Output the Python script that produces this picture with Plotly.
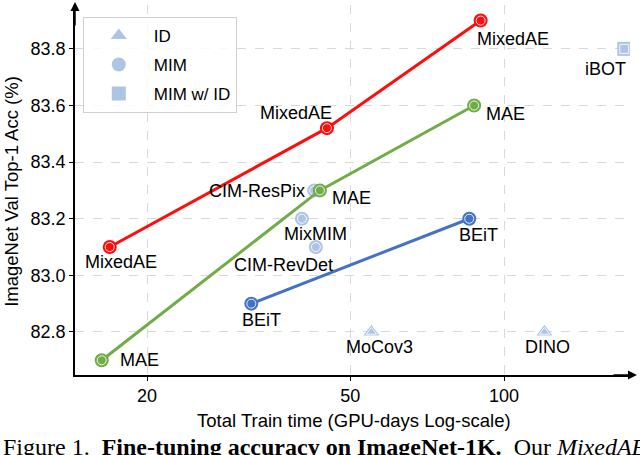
import numpy as np
import plotly.graph_objects as go

# ---------------- data ----------------
mixedae_x = [16.9, 45.0, 90.0]
mixedae_y = [83.10, 83.52, 83.90]
mae_x = [16.3, 43.6, 87.4]
mae_y = [82.70, 83.30, 83.60]
beit_x = [32.0, 85.5]
beit_y = [82.90, 83.20]

mim_names = ["CIM-ResPix", "MixMIM", "CIM-RevDet"]
mim_x = [42.5, 40.2, 42.8]
mim_y = [83.30, 83.20, 83.10]

id_names = ["MoCov3", "DINO"]
id_x = [55.0, 120.0]
id_y = [82.80, 82.80]

mimid_names = ["iBOT"]
mimid_x = [172.0]
mimid_y = [83.80]

x_ticks = [20, 50, 100]
y_ticks = [82.8, 83.0, 83.2, 83.4, 83.6, 83.8]

RED = "#ff0d0d"
GREEN = "#70ad47"
BLUE = "#4472c4"
LIGHT = "#aec4e5"
FONT = "Liberation Sans"

fig = go.Figure()

def add_series(xs, ys, color, symbol, name=None, mode="markers", legend=False, size=14):
    fig.add_trace(go.Scatter(
        x=xs, y=ys, mode=mode, name=name, showlegend=legend, legendgroup=name,
        line=dict(color=color, width=3),
        marker=dict(symbol=symbol, size=size, color=color, line=dict(width=0)),
    ))
    fig.add_trace(go.Scatter(
        x=xs, y=ys, mode="markers", showlegend=False, hoverinfo="skip",
        marker=dict(symbol=symbol + "-open", size=size - 5,
                    color="rgba(255,255,255,0.85)", line=dict(width=1)),
    ))

# background categories (legend)
add_series(id_x, id_y, LIGHT, "triangle-up", name="ID", legend=True)
add_series(mim_x, mim_y, LIGHT, "circle", name="MIM", legend=True)
add_series(mimid_x, mimid_y, LIGHT, "square", name="MIM w/ ID", legend=True)
# method lines
add_series(beit_x, beit_y, BLUE, "circle", mode="lines+markers")
add_series(mae_x, mae_y, GREEN, "circle", mode="lines+markers")
add_series(mixedae_x, mixedae_y, RED, "circle", mode="lines+markers")

# --------------- point labels ---------------
labels = []
labels += list(zip(["MixedAE"] * 3, mixedae_x, mixedae_y, [(11, -15, "center"), (-31, 15, "center"), (32, -18, "center")]))
labels += list(zip(["MAE"] * 3, mae_x, mae_y, [(38, 0, "center"), (32, -8, "center"), (31, -8, "center")]))
labels += list(zip(["BEiT"] * 2, beit_x, beit_y, [(10, -16, "center"), (9, -16, "center")]))
labels += list(zip(mim_names, mim_x, mim_y, [(-7, -1, "right"), (14, -15, "center"), (-32, -18, "center")]))
labels += list(zip(id_names, id_x, id_y, [(8, -15, "center"), (3, -15, "center")]))
labels += list(zip(mimid_names, mimid_x, mimid_y, [(-19, -20, "center")]))

for txt, x, y, (dx, dy, anc) in labels:
    fig.add_annotation(x=np.log10(x), y=y, xref="x", yref="y", text=txt,
                       showarrow=False, xshift=dx, yshift=dy, xanchor=anc,
                       yanchor="middle", font=dict(family=FONT, size=18, color="black"))

# axis arrows
fig.add_annotation(xref="paper", yref="paper", x=0, y=1.008, ax=0, ay=25,
                   axref="pixel", ayref="pixel", showarrow=True, arrowhead=2,
                   arrowsize=1.2, arrowwidth=1.5, arrowcolor="black", text="")
fig.add_annotation(xref="paper", yref="paper", x=1.0125, y=0, ax=-25, ay=0,
                   axref="pixel", ayref="pixel", showarrow=True, arrowhead=2,
                   arrowsize=1.2, arrowwidth=1.5, arrowcolor="black", text="")

# axis titles
fig.add_annotation(xref="paper", yref="paper", x=0.502, y=0, yshift=-45,
                   text="Total Train time (GPU-days Log-scale)", showarrow=False,
                   xanchor="center", yanchor="middle",
                   font=dict(family=FONT, size=18.5, color="black"))
fig.add_annotation(xref="paper", yref="paper", x=0, xshift=-63, y=0.495,
                   text="ImageNet Val Top-1 Acc (%)", showarrow=False, textangle=-90,
                   xanchor="center", yanchor="middle",
                   font=dict(family=FONT, size=18.5, color="black"))
# caption (cut off by the bottom edge, as in the reference)
fig.add_annotation(xref="paper", yref="paper", x=0, xshift=-74, y=0, yshift=-57,
                   text="Figure 1.&nbsp;&nbsp;<b>Fine-tuning accuracy on ImageNet-1K.</b>&nbsp;&nbsp;Our <i>MixedAE</i>",
                   showarrow=False, xanchor="left", yanchor="top",
                   font=dict(family="Liberation Serif", size=24, color="black"))

axis_common = dict(showline=True, linecolor="black", linewidth=1.5,
                   showgrid=True, gridcolor="#d9d9d9", griddash="dash", gridwidth=1,
                   zeroline=False, ticks="outside", ticklen=4, tickcolor="black",
                   tickfont=dict(family=FONT, size=18, color="black"))

fig.update_xaxes(type="log", range=[np.log10(14.45), np.log10(176.5)],
                 tickvals=x_ticks, ticktext=[str(v) for v in x_ticks], **axis_common)
fig.update_yaxes(range=[82.648, 83.955], tickvals=y_ticks,
                 ticktext=[f"{v:.1f}" for v in y_ticks], **axis_common)

fig.update_layout(
    width=640, height=455,
    margin=dict(l=75, r=10, t=5, b=80),
    plot_bgcolor="white", paper_bgcolor="white",
    showlegend=True,
    legend=dict(x=0.014, y=0.968, xanchor="left", yanchor="top",
                bgcolor="rgba(255,255,255,0.8)", bordercolor="#d0d0d0", borderwidth=1,
                font=dict(family=FONT, size=17, color="black"),
                itemwidth=60, tracegroupgap=4),
)

fig.write_html("out.html", config={"displayModeBar": False},
               post_script="document.body.style.margin='0';")
